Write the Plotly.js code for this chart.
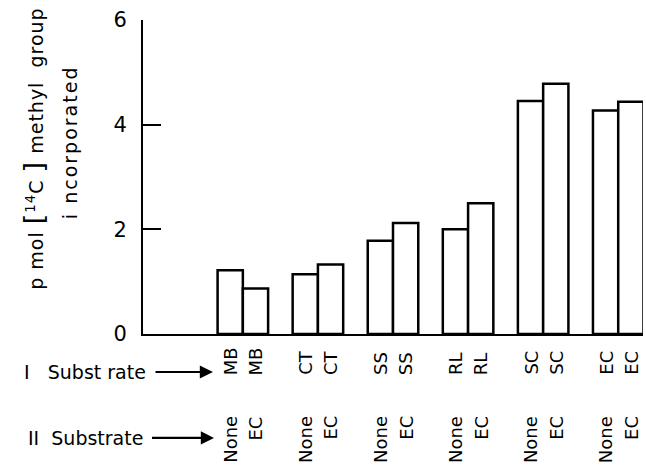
<!DOCTYPE html>
<html>
<head>
<meta charset="utf-8">
<script src="https://cdn.plot.ly/plotly-3.0.1.min.js"></script>
<style>html,body{margin:0;padding:0;background:#fff;}#chart{width:646px;height:468px;}</style>
</head>
<body>
<div id="chart"></div>
<script>
// Data
var substrateI = ['MB', 'CT', 'SS', 'RL', 'SC', 'EC'];
var substrateII = ['None', 'EC'];
var valuesNone = [1.22, 1.14, 1.78, 2.00, 4.45, 4.27];
var valuesEC = [0.87, 1.33, 2.12, 2.50, 4.78, 4.44];
var yTicks = [0, 2, 4, 6];

var FONT = 'DejaVu Sans, Liberation Sans, sans-serif';
var barLine = {color: '#000', width: 2.5};

var traces = [
  {type: 'bar', x: substrateI, y: valuesNone, name: substrateII[0],
   marker: {color: '#fff', line: barLine}, hoverinfo: 'none'},
  {type: 'bar', x: substrateI, y: valuesEC, name: substrateII[1],
   marker: {color: '#fff', line: barLine}, hoverinfo: 'none'}
];

var off = 0.168;
var annotations = [];
substrateI.forEach(function (s, i) {
  [-off, off].forEach(function (d, j) {
    annotations.push({xref: 'x', yref: 'paper', x: i + d, y: -0.137,
      text: s, textangle: -90, showarrow: false, yanchor: 'bottom', xanchor: 'center',
      font: {family: FONT, size: 18, color: '#000'}});
    annotations.push({xref: 'x', yref: 'paper', x: i + d, y: -0.255,
      text: substrateII[j], textangle: -90, showarrow: false, yanchor: 'top', xanchor: 'center',
      font: {family: FONT, size: 18, color: '#000'}});
  });
});

// row labels with their arrows (text placed at the arrow tail)
annotations.push({xref: 'paper', yref: 'paper', x: 0.14, y: -0.121,
  text: 'I   Subst rate', showarrow: true, ax: -128, ay: 0, startstandoff: 8,
  arrowhead: 2, arrowsize: 1.2, arrowwidth: 2.2, arrowcolor: '#000',
  font: {family: FONT, size: 19, color: '#000'}});
annotations.push({xref: 'paper', yref: 'paper', x: 0.142, y: -0.331,
  text: 'II  Substrate', showarrow: true, ax: -129, ay: 0, startstandoff: 8,
  arrowhead: 2, arrowsize: 1.2, arrowwidth: 2.2, arrowcolor: '#000',
  font: {family: FONT, size: 19, color: '#000'}});

// y-axis title (two lines)
annotations.push({xref: 'paper', yref: 'paper', x: -0.218, y: 0.59, xanchor: 'center', yanchor: 'middle',
  textangle: -90, showarrow: false,
  text: '<span style="letter-spacing:1px">p mol <span style="font-size:27px">[</span><sup>14</sup>C <span style="font-size:27px">]</span> methyl  group</span>',
  font: {family: FONT, size: 19, color: '#000'}});
annotations.push({xref: 'paper', yref: 'paper', x: -0.146, y: 0.611, xanchor: 'center', yanchor: 'middle',
  textangle: -90, showarrow: false, text: '<span style="letter-spacing:2px">i ncorporated</span>',
  font: {family: FONT, size: 19, color: '#000'}});

var layout = {
  width: 646, height: 468,
  margin: {l: 143, r: 3, t: 20, b: 134},
  paper_bgcolor: '#fff', plot_bgcolor: '#fff',
  showlegend: false,
  barmode: 'group', bargap: 0.327, bargroupgap: 0,
  xaxis: {type: 'category', range: [-1.33, 5.33], showticklabels: false, ticks: '',
    showline: true, linecolor: '#000', linewidth: 2, showgrid: false, zeroline: false, fixedrange: true},
  yaxis: {range: [0, 6], tickvals: yTicks, ticktext: yTicks.map(String), ticks: 'inside', ticklen: 18,
    tickwidth: 2, tickcolor: '#000', showline: true, linecolor: '#000', linewidth: 2,
    showgrid: false, zeroline: false, ticklabelstandoff: 10,
    tickfont: {family: FONT, size: 21, color: '#000'}, fixedrange: true},
  annotations: annotations
};

Plotly.newPlot('chart', traces, layout, {displayModeBar: false, staticPlot: true});
</script>
</body>
</html>
